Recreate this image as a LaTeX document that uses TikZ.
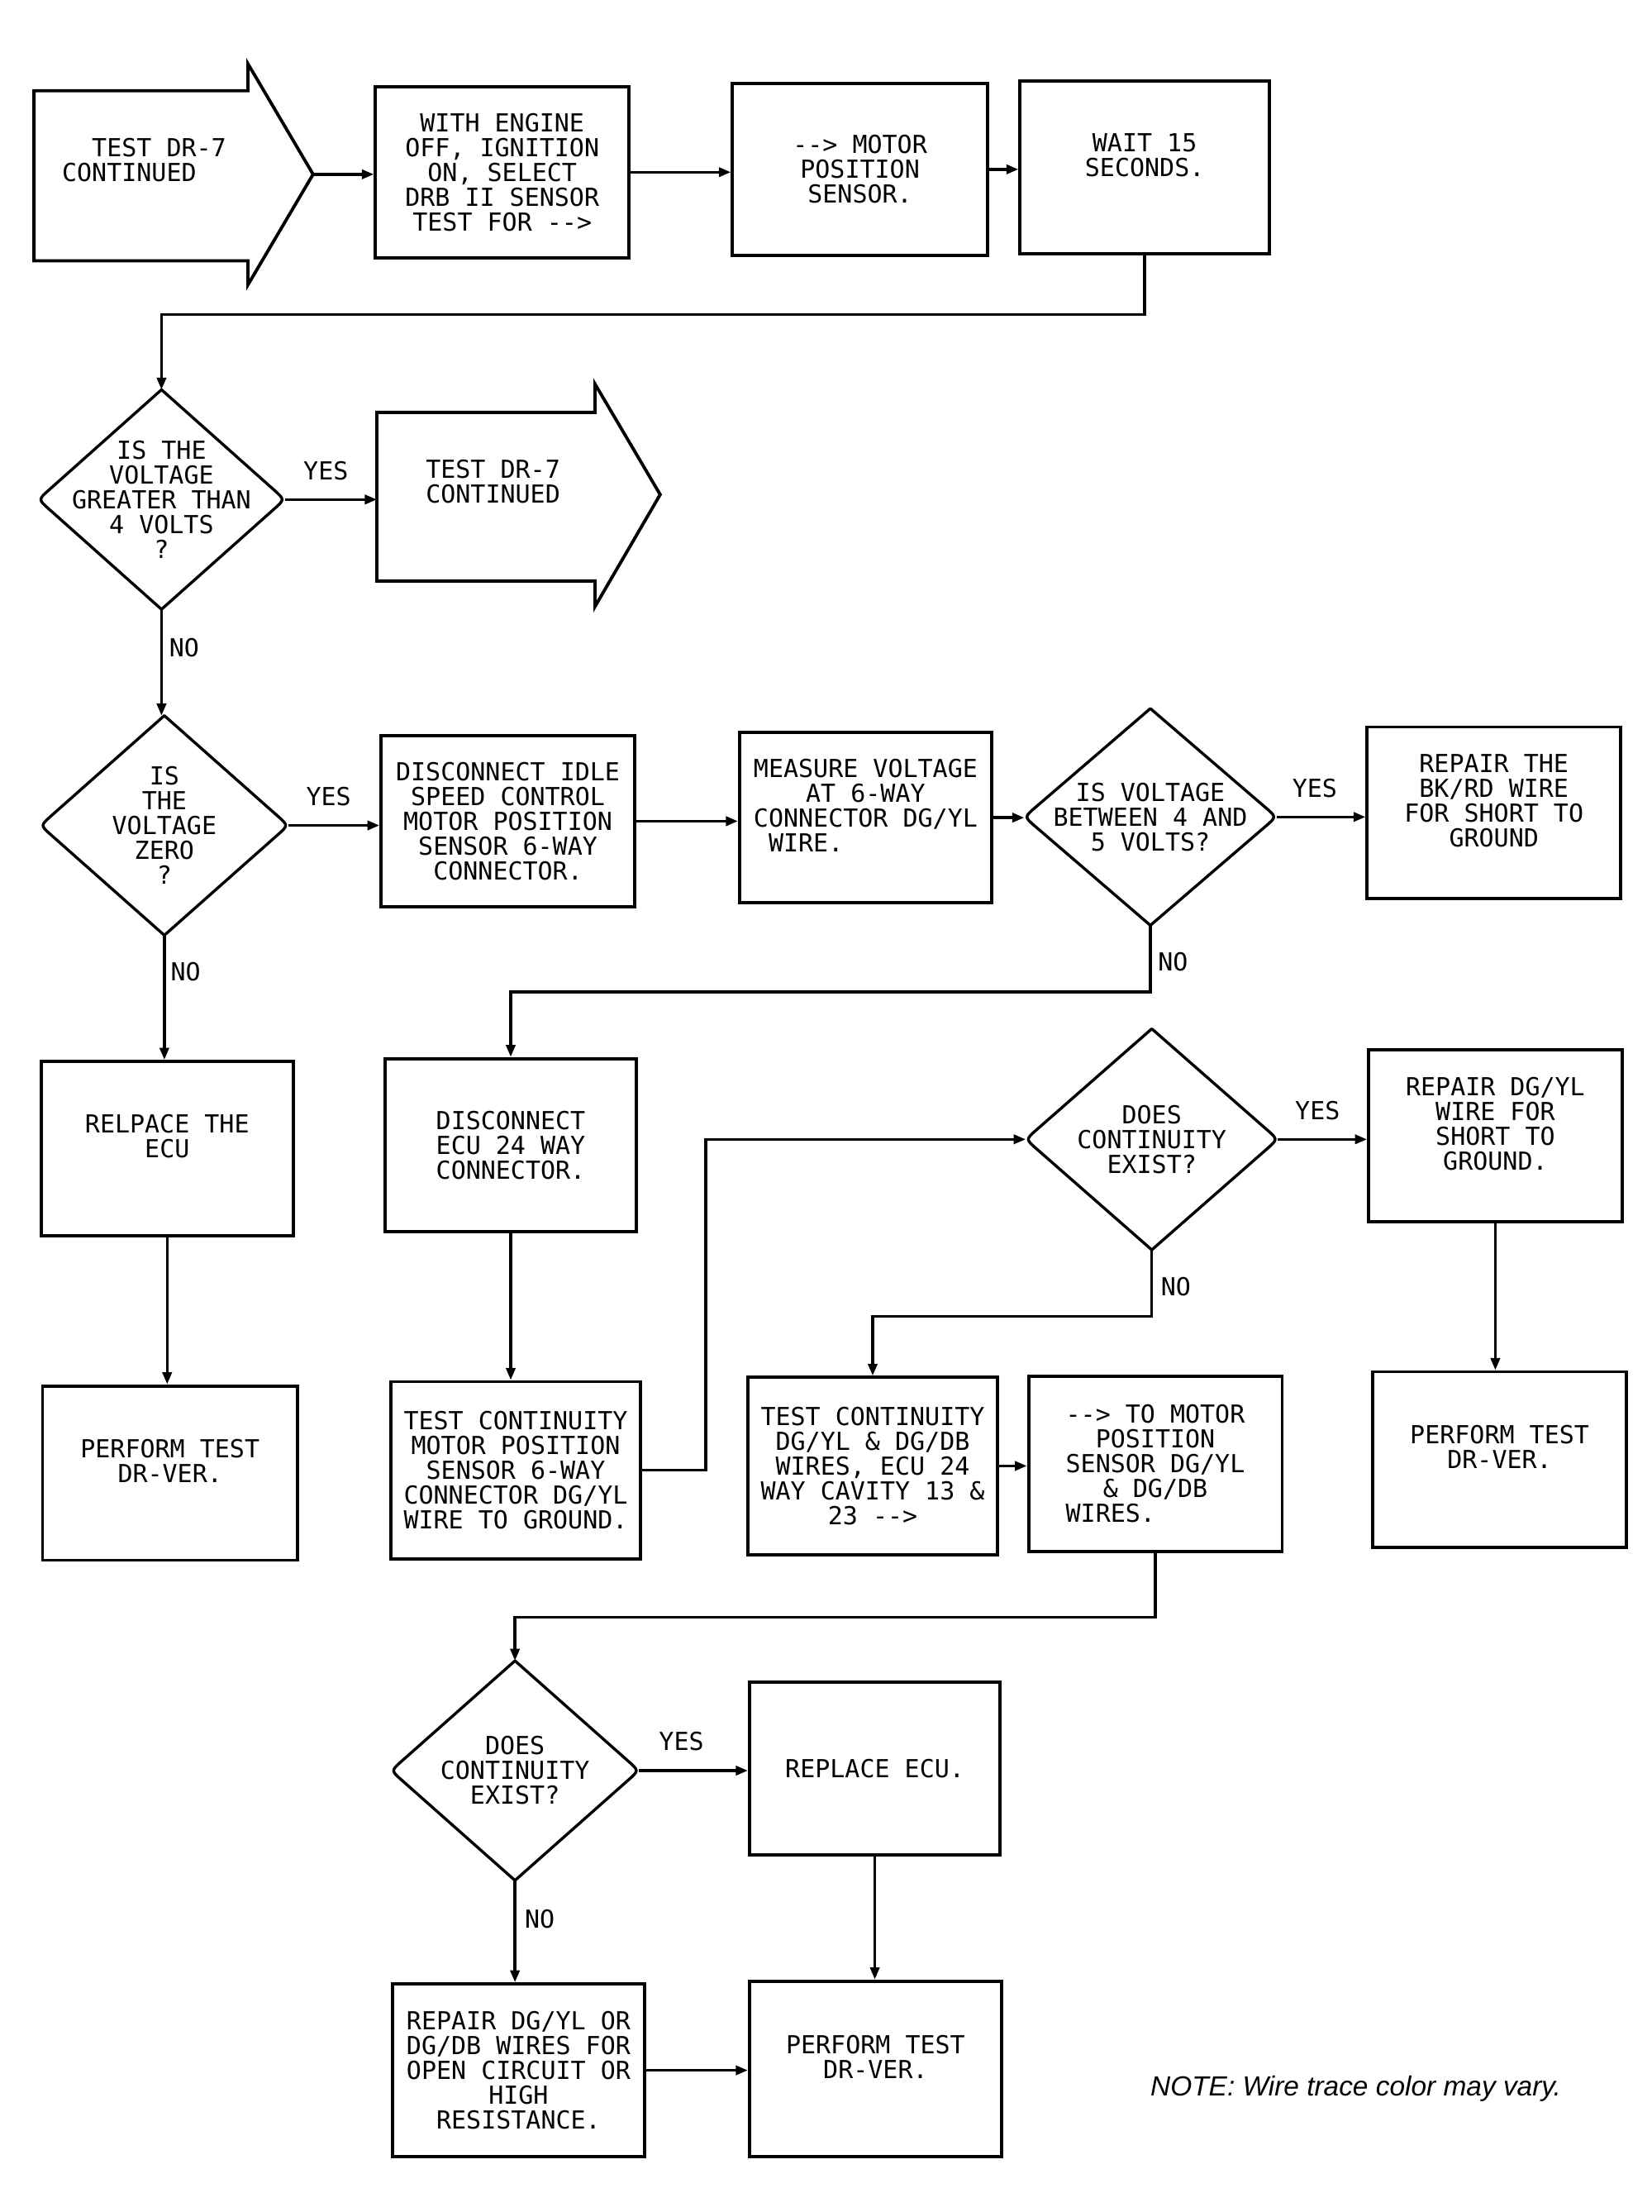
\documentclass[tikz,border=0pt]{standalone}
\usepackage{fontspec}
\setmonofont{DejaVu Sans Mono}
\newfontfamily\notefont{Liberation Sans}
\usetikzlibrary{arrows.meta,calc,shapes.geometric}
\newcommand{\chartfont}{\ttfamily\fontsize{7pt}{7pt}\selectfont}
\tikzset{
  boxst/.style={draw, line width=0.9pt, inner sep=0pt, align=center, font=\chartfont},
  diast/.style={shape=diamond, draw=none, inner sep=0pt, outer sep=0pt},
  diaedge/.style={line width=0.8pt, line join=round},
  txtst/.style={inner sep=0pt, align=center, font=\chartfont},
  lblst/.style={inner sep=0pt, font=\chartfont},
  blockst/.style={line width=0.9pt, line join=miter},
  conn/.style={line width=0.8pt, -{Triangle[length=3.4pt,width=2.6pt]}},
}
\newcommand{\flowbox}[6]{%
  \node[boxst, minimum width={(#4-#2)*0.4pt}, minimum height={(#5-#3)*0.4pt}]
    (#1) at ({(#2+#4)/2},{(#3+#5)/2}) {#6};}
\newcommand{\flowdia}[6]{%
  \node[diast, minimum width={(#4)*0.4pt}, minimum height={(#5)*0.4pt}] (#1) at (#2,#3) {};
  \draw[diaedge] (#1.north) -- ($(#1.west)!4pt!(#1.north)$) .. controls (#1.west) ..
    ($(#1.west)!4pt!(#1.south)$) -- (#1.south) -- ($(#1.east)!4pt!(#1.south)$)
    .. controls (#1.east) .. ($(#1.east)!4pt!(#1.north)$) -- cycle;
  \node[txtst] (#1t) at (#1.center) {#6};}
\begin{document}
\begin{tikzpicture}[x=0.4pt,y=-0.4pt]
\useasboundingbox (0,0) rectangle (1166,1561);

% ---- block arrows
\draw[blockst] (24,64) -- (175,64) -- (175,45) -- (221,123) -- (175,201) -- (175,184) -- (24,184) -- cycle;
\coordinate (a1tip) at (221,123);
\node[txtst, align=left] (a1) at (101.75,113) {\phantom{XX}TEST DR-7\\CONTINUED};

\draw[blockst] (266,291) -- (420,291) -- (420,271) -- (466,349) -- (420,428) -- (420,410) -- (266,410) -- cycle;
\coordinate (a2in) at (266,350);
\node[txtst] (a2) at (348,340) {TEST DR-7\\CONTINUED};

% ---- boxes
\flowbox{b1}{265}{61}{444}{182}{WITH ENGINE\\OFF, IGNITION\\ON, SELECT\\DRB II SENSOR\\TEST FOR -{}-{}>}
\flowbox{b2}{517}{59}{697}{180}{-{}-{}> MOTOR\\POSITION\\SENSOR.}
\flowbox{b3}{720}{57}{896}{179}{WAIT 15\\SECONDS.\\\mbox{}}
\flowbox{b4}{269}{519}{448}{640}{DISCONNECT IDLE\\SPEED CONTROL\\MOTOR POSITION\\SENSOR 6-WAY\\CONNECTOR.}
\flowbox{b5}{522}{517}{700}{637}{MEASURE VOLTAGE\\AT 6-WAY\\CONNECTOR DG/YL\\\phantom{X}WIRE.\phantom{XXXXXXXXX}\\\mbox{}}
\flowbox{b6}{965}{513}{1144}{634}{REPAIR THE\\BK/RD WIRE\\FOR SHORT TO\\GROUND\\\mbox{}}
\flowbox{b7}{272}{747}{449}{869}{DISCONNECT\\ECU 24 WAY\\CONNECTOR.}
\flowbox{b8}{29}{749}{207}{872}{RELPACE THE\\ECU\\\mbox{}}
\flowbox{b9}{30}{978}{210}{1101}{PERFORM TEST\\DR-VER.\\\mbox{}}
\flowbox{b10}{276}{975}{452}{1100}{TEST CONTINUITY\\MOTOR POSITION\\SENSOR 6-WAY\\CONNECTOR DG/YL\\WIRE TO GROUND.}
\flowbox{b11}{966}{741}{1145}{862}{REPAIR DG/YL\\WIRE FOR\\SHORT TO\\GROUND.\\\mbox{}}
\flowbox{b12}{969}{968}{1148}{1092}{PERFORM TEST\\DR-VER.\\\mbox{}}
\flowbox{b13}{528}{972}{704}{1097}{TEST CONTINUITY\\DG/YL \& DG/DB\\WIRES, ECU 24\\WAY CAVITY 13 \&\\23 -{}-{}>}
\flowbox{b14}{726}{971}{905}{1095}{-{}-{}> TO MOTOR\\POSITION\\SENSOR DG/YL\\\& DG/DB\\WIRES.\phantom{XXXXXX}}
\flowbox{b15}{529}{1187}{706}{1309}{REPLACE ECU.}
\flowbox{b16}{529}{1398}{707}{1522}{PERFORM TEST\\DR-VER.\\\mbox{}}
\flowbox{b17}{277}{1400}{455}{1522}{REPAIR DG/YL OR\\DG/DB WIRES FOR\\OPEN CIRCUIT OR\\HIGH\\RESISTANCE.}

% ---- diamonds
\flowdia{d1}{114}{352.5}{174}{155}{IS THE\\VOLTAGE\\GREATER THAN\\4 VOLTS\\?}
\flowdia{d2}{116}{582.5}{175}{155}{IS\\THE\\VOLTAGE\\ZERO\\?}
\flowdia{d3}{812}{576.5}{178}{153}{IS VOLTAGE\\BETWEEN 4 AND\\5 VOLTS?}
\flowdia{d4}{813}{804}{178}{156}{DOES\\CONTINUITY\\EXIST?}
\flowdia{d5}{363.5}{1249.5}{175}{155}{DOES\\CONTINUITY\\EXIST?}

% ---- connectors
\draw[conn] (a1tip) -- (a1tip -| b1.west);
\draw[conn] (b1.east) -- (b1.east -| b2.west);
\draw[conn] (b2.east) -- (b2.east -| b3.west);
\draw[conn] (b3.south) |- ($(d1.north)+(0,-53)$) -- (d1.north);
\draw[conn] (d1.east) -- (d1.east -| a2in);
\draw[conn] (d1.south) -- (d1.south |- d2.north);
\draw[conn] (d2.east) -- (d2.east -| b4.west);
\draw[conn] (b4.east) -- (b4.east -| b5.west);
\draw[conn] (b5.east) -- (b5.east -| d3.west);
\draw[conn] (d3.east) -- (d3.east -| b6.west);
\draw[conn] (d3.south) -- ++(0,47) -| (b7.north);
\draw[conn] (d2.south) -- (d2.south |- b8.north);
\draw[conn] (b8.south) -- (b8.south |- b9.north);
\draw[conn] (b7.south) -- (b7.south |- b10.north);
\draw[conn] (b10.east) -- ++(45,0) |- (d4.west);
\draw[conn] (d4.east) -- (d4.east -| b11.west);
\draw[conn] (b11.south) -- (b11.south |- b12.north);
\draw[conn] (d4.south) -- ++(0,47) -| (b13.north);
\draw[conn] (b13.east) -- (b13.east -| b14.west);
\draw[conn] (b14.south) -- ++(0,45) -| (d5.north);
\draw[conn] (d5.east) -- (d5.east -| b15.west);
\draw[conn] (b15.south) -- (b15.south |- b16.north);
\draw[conn] (d5.south) -- (d5.south |- b17.north);
\draw[conn] (b17.east) -- (b17.east -| b16.west);

% ---- labels
\node[lblst] (y1) at (230,332) {YES};
\node[lblst] (n1) at (130,457) {NO};
\node[lblst] (y2) at (232,562) {YES};
\node[lblst] (n2) at (131,686) {NO};
\node[lblst] (y3) at (928,556) {YES};
\node[lblst] (n3) at (828,679) {NO};
\node[lblst] (y4) at (930,784) {YES};
\node[lblst] (n4) at (830,908) {NO};
\node[lblst] (y5) at (481,1229) {YES};
\node[lblst] (n5) at (381,1354) {NO};

\node[inner sep=0pt, font=\notefont\itshape\fontsize{7.8pt}{9pt}\selectfont] (note) at (957,1474) {NOTE: Wire trace color may vary.};
\end{tikzpicture}
\end{document}
